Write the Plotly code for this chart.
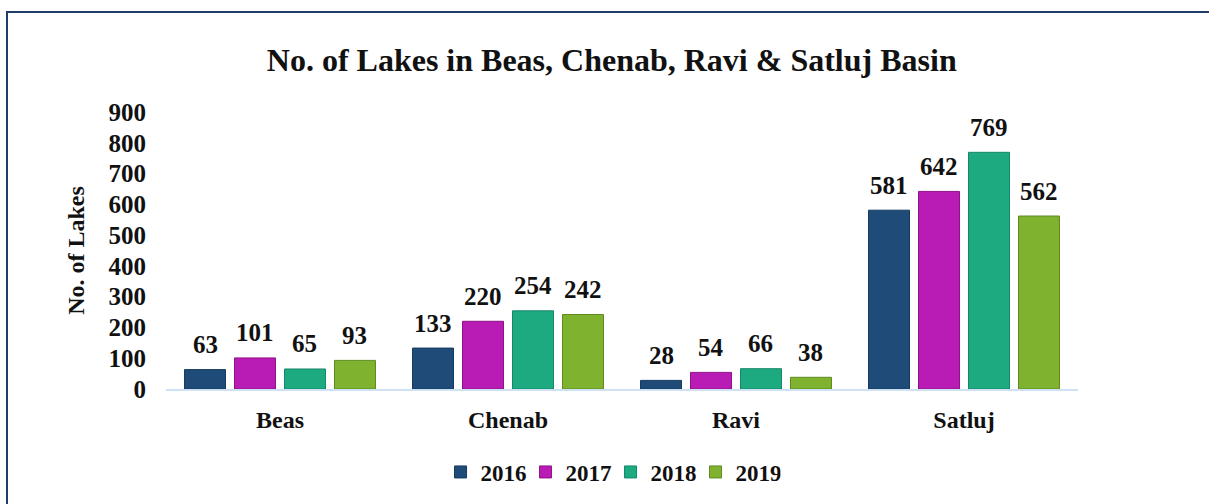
import plotly.graph_objects as go

basins = ["Beas", "Chenab", "Ravi", "Satluj"]
years = ["2016", "2017", "2018", "2019"]
v2016 = [63, 133, 28, 581]
v2017 = [101, 220, 54, 642]
v2018 = [65, 254, 66, 769]
v2019 = [93, 242, 38, 562]
series = [v2016, v2017, v2018, v2019]
colors = ["#1f4b78", "#b91cb5", "#1daa80", "#7fb22e"]
edges = ["#153a60", "#8e1288", "#15876a", "#5f8a1f"]

W, H = 1209, 504
L, R, T, B = 166, 131, 112, 115
pw, ph = W - L - R, H - T - B
BARGAP = 0.123

SERIF = "Liberation Serif"
font_b = dict(family=SERIF, color="#111111")

fig = go.Figure()
for name, vals, c, e in zip(years, series, colors, edges):
    fig.add_trace(go.Bar(
        name="<b>" + name + "</b>", x=basins, y=vals,
        marker=dict(color=c, line=dict(color=e, width=1)),
        cliponaxis=False, hoverinfo="skip",
    ))

# value labels above each bar, positioned in data coordinates
slot = (1 - BARGAP) / len(series)
for i, vals in enumerate(series):
    off = (i - (len(series) - 1) / 2) * slot
    for j, v in enumerate(vals):
        fig.add_annotation(x=j + off, y=v, xref="x", yref="y",
                           text="<b>%d</b>" % v, showarrow=False,
                           yanchor="middle", yshift=25,
                           font=dict(size=25, **font_b))

fig.update_layout(
    width=W, height=H,
    margin=dict(l=L, r=R, t=T, b=B, autoexpand=False),
    paper_bgcolor="white", plot_bgcolor="white",
    barmode="group", bargap=BARGAP, bargroupgap=0.18,
    title=dict(text="<b>No. of Lakes in Beas, Chenab, Ravi &amp; Satluj Basin</b>",
               x=0.506, xanchor="center", xref="container",
               y=1 - 60 / H, yanchor="middle", yref="container",
               font=dict(size=32, **font_b)),
    font=dict(family=SERIF, size=22, color="#111111"),
    xaxis=dict(showline=True, linecolor="#cfe2f3", linewidth=2, ticks="",
               tickfont=dict(size=24, **font_b), showgrid=False, automargin=False,
               ticklabelstandoff=8,
               tickprefix="<b>", ticksuffix="</b>"),
    yaxis=dict(range=[0, 900], dtick=100, showgrid=False, showline=False,
               zeroline=False, ticks="", ticklabelstandoff=19, automargin=False,
               tickfont=dict(size=25, **font_b),
               tickprefix="<b>", ticksuffix="</b>",
               title=dict(text="<b>No. of Lakes</b>", font=dict(size=24, **font_b), standoff=17)),
    legend=dict(orientation="h", x=0.505, xanchor="center", xref="container",
                y=(H - 472) / H, yanchor="middle", yref="container",
                font=dict(size=23, **font_b), traceorder="normal",
                itemwidth=30, entrywidth=40, entrywidthmode="pixels"),
    showlegend=True,
)

fig.add_shape(type="rect", xref="paper", yref="paper",
              x0=(7 - L) / pw, x1=1.5, y0=-0.6, y1=(H - B - 12) / ph,
              line=dict(color="#1f3d6b", width=2), fillcolor="rgba(0,0,0,0)", layer="below")

fig.write_html("out.html", config={"displayModeBar": False},
               post_script="document.body.style.margin='0';document.body.style.overflow='hidden';")
